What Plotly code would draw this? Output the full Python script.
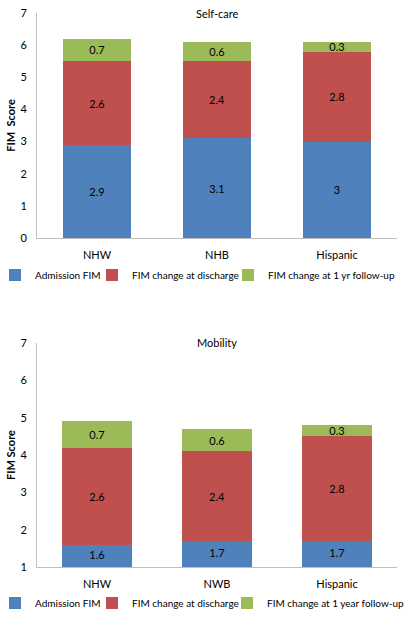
import plotly.graph_objects as go

# ---- data ----
groups_top = ["NHW", "NHB", "Hispanic"]
groups_bot = ["NHW", "NWB", "Hispanic"]

selfcare_admission = [2.9, 3.1, 3.0]
selfcare_discharge = [2.6, 2.4, 2.8]
selfcare_followup = [0.7, 0.6, 0.3]

mobility_admission = [1.6, 1.7, 1.7]
mobility_discharge = [2.6, 2.4, 2.8]
mobility_followup = [0.7, 0.6, 0.3]

series_top = ["Admission FIM", "FIM change at discharge", "FIM change at 1 yr follow-up"]
series_bot = ["Admission FIM", "FIM change at discharge", "FIM change at 1 year follow-up"]

mobility_axis_min = 1

colors = ["#4F81BD", "#C0504D", "#9BBB59"]
FONT = "Lato, Open Sans, sans-serif"

# one legend box per entry so each entry sits where the original places it
top_legend_ids = ["legend", "legend2", "legend3"]
bot_legend_ids = ["legend4", "legend5", "legend6"]
top_legend_x = [-5, 92, 228]
bot_legend_x = [-5, 92, 227]
legend_entry_w = [70, 115, 135]

fig = go.Figure()

def fmt(v):
    return ("%g" % v)

for vals, name, col, lg in zip([selfcare_admission, selfcare_discharge, selfcare_followup],
                               series_top, colors, top_legend_ids):
    fig.add_trace(go.Bar(
        x=groups_top, y=vals, name=name, marker=dict(color=col, line=dict(width=0)),
        text=[fmt(v) for v in vals], textposition="inside", insidetextanchor="middle",
        textfont=dict(color="black", size=11, family=FONT), width=0.57,
        xaxis="x", yaxis="y", legend=lg,
        hoverinfo="skip", constraintext="none",
    ))

for i, (vals, name, col, lg) in enumerate(zip([mobility_admission, mobility_discharge, mobility_followup],
                                              series_bot, colors, bot_legend_ids)):
    fig.add_trace(go.Bar(
        x=groups_bot, y=vals, name=name, marker=dict(color=col, line=dict(width=0)),
        text=[fmt(v) for v in vals], textposition="none" if i == 0 else "inside",
        insidetextanchor="middle",
        textfont=dict(color="black", size=11, family=FONT), width=0.59,
        xaxis="x2", yaxis="y2", legend=lg,
        hoverinfo="skip", constraintext="none",
    ))

# labels for the admission segment, centred on its visible part (axis starts at 1)
fig.add_trace(go.Scatter(
    x=groups_bot, y=[(mobility_axis_min + v) / 2 for v in mobility_admission],
    mode="text", text=[fmt(v) for v in mobility_admission],
    textfont=dict(color="black", size=11, family=FONT),
    xaxis="x2", yaxis="y2", showlegend=False, hoverinfo="skip",
))

axis_line = "#BFBFBF"
xcommon = dict(showline=True, linecolor=axis_line, linewidth=1, ticks="", showgrid=False,
               tickfont=dict(size=11, family=FONT, color="black"), fixedrange=True,
               ticklabelstandoff=7)
ycommon = dict(showline=True, linecolor=axis_line, linewidth=1, ticks="", showgrid=False,
               zeroline=False, dtick=1, tickfont=dict(size=11, family=FONT, color="black"),
               fixedrange=True, ticklabelstandoff=7)

legend_common = dict(orientation="h", xanchor="left", yanchor="middle",
                     font=dict(size=10, family=FONT, color="black"),
                     itemwidth=30, bgcolor="rgba(0,0,0,0)", entrywidthmode="pixels",
                     itemclick=False, itemdoubleclick=False)

legends = {}
for lg, px, ew in zip(top_legend_ids, top_legend_x, legend_entry_w):
    legends[lg] = dict(x=px / 412, y=1 - 275 / 617, entrywidth=ew, **legend_common)
for lg, px, ew in zip(bot_legend_ids, bot_legend_x, legend_entry_w):
    legends[lg] = dict(x=px / 412, y=1 - 603 / 617, entrywidth=ew, **legend_common)

fig.update_layout(
    width=412, height=617,
    margin=dict(l=0, r=0, t=0, b=0, autoexpand=False),
    paper_bgcolor="white", plot_bgcolor="white",
    barmode="stack",
    font=dict(family=FONT, size=11, color="black"),
    xaxis=dict(domain=[0.0898, 0.9636], anchor="y", **xcommon),
    yaxis=dict(domain=[0.6143, 0.9789], anchor="x", range=[0, 7],
               title=dict(text="<b>FIM  Score</b>", font=dict(size=11, family=FONT), standoff=2),
               **ycommon),
    xaxis2=dict(domain=[0.0898, 0.9636], anchor="y2", **xcommon),
    yaxis2=dict(domain=[0.0810, 0.4441], anchor="x2", range=[mobility_axis_min, 7],
                title=dict(text="<b>FIM Score</b>", font=dict(size=11, family=FONT), standoff=2),
                **ycommon),
    showlegend=True,
    annotations=[
        dict(text="Self-care", x=0.5, xref="x domain", y=1.0, yref="y domain",
             showarrow=False, font=dict(size=11, family=FONT), yanchor="middle"),
        dict(text="Mobility", x=0.5, xref="x2 domain", y=1.0, yref="y2 domain",
             showarrow=False, font=dict(size=11, family=FONT), yanchor="middle"),
    ],
    **legends,
)

fig.write_html("out.html", config={"displayModeBar": False},
               post_script="document.body.style.margin='0px';")
